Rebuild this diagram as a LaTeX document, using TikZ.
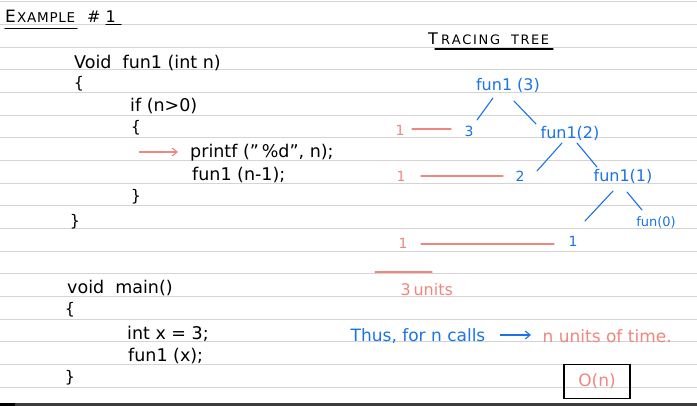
\documentclass[tikz,border=0pt]{standalone}
\usepackage{fontspec}
\setmainfont{DejaVu Sans}
\usetikzlibrary{calc,arrows.meta}
\definecolor{ruleline}{HTML}{D4D4D4}
\definecolor{pen}{HTML}{1A73E8}
\definecolor{salmon}{HTML}{F0877E}
\definecolor{barc}{HTML}{3C3C3C}
\begin{document}
\begin{tikzpicture}[x=1pt,y=-1pt,
  codetxt/.style={anchor=base west,inner sep=0pt,font=\fontsize{17.5}{18}\selectfont},
  bracetxt/.style={inner sep=0pt,font=\fontsize{16}{16}\selectfont},
  treetxt/.style={inner sep=0.5pt,text=pen,font=\fontsize{16}{16}\selectfont},
  numtxt/.style={inner sep=0.5pt,text=pen,font=\fontsize{14}{14}\selectfont},
  pinktxt/.style={inner sep=0.5pt,text=salmon,font=\fontsize{14}{14}\selectfont},
  heading/.style={anchor=base west,inner sep=0pt},
  treeline/.style={draw=pen,line width=1.1pt,line cap=round},
  pinkline/.style={draw=salmon,line width=1.1pt,line cap=round},
  blackline/.style={draw=black,line width=1.1pt,line cap=round}]
\useasboundingbox (0,0) rectangle (697,406);
\fill[white] (0,0) rectangle (697,406);
% ruled paper
\foreach \k in {0,...,17}{
  \draw[ruleline,line width=1pt] (0,{2+22.65*\k}) -- (697,{2+22.65*\k});
}
\fill[barc] (0,403) rectangle (697,406);
\fill[black] (0,403) rectangle (15,406);

% heading
\node[heading] (ex) at (5,23) {\makebox[12pt][l]{\fontsize{17}{17}\selectfont E}{\fontsize{13.5}{13.5}\selectfont\makebox[58pt][s]{X\hfill A\hfill M\hfill P\hfill L\hfill E}}\hspace{12pt}{\fontsize{16}{16}\selectfont\#\hspace{5pt}1}};
\draw[blackline] (5,28.5) -- (77,28.5);
\draw[blackline] (106,24.5) -- (121,24.5);

% code
\node[codetxt] (c1) at (74,69) {Void\ \ fun1 (int n)};
\node[bracetxt] (c2) at (79,84) {\{};
\node[codetxt] (c3) at (130,112) {if (n>0)};
\node[bracetxt] (c4) at (136,128) {\{};
\node[codetxt] (c5) at (190,158) {printf ("\,\%d", n);};
\node[codetxt] (c6) at (192,181) {fun1 (n-1);};
\node[bracetxt] (c7) at (136,197) {\}};
\node[bracetxt] (c8) at (75,222) {\}};
\coordinate (arrs) at (139,152);
\draw[salmon,line width=1.1pt,-{Straight Barb[length=5pt,width=8pt]}] (arrs) -- ($(c5.west |- arrs)+(-12,0)$);
\node[codetxt] (m1) at (67,294) {void\ \ main()};
\node[bracetxt] (m2) at (70,310) {\{};
\node[codetxt] (m3) at (127,340) {int x = 3;};
\node[codetxt] (m4) at (128,362) {fun1 (x);};
\node[bracetxt] (m5) at (70,378) {\}};

% tracing tree title
\node[heading] (tt) at (428,45) {\makebox[13pt][l]{\fontsize{16}{16}\selectfont T}{\fontsize{13}{13}\selectfont\makebox[59pt][s]{R\hfill A\hfill C\hfill I\hfill N\hfill G}\hspace{11pt}\makebox[38pt][s]{T\hfill R\hfill E\hfill E}}};
\draw[blackline] (435,49) -- (553,49);

% tree
\node[treetxt] (f3) at (508,85) {fun1 (3)};
\node[numtxt] (n3) at (469,131) {3};
\node[treetxt] (f2) at (570,133) {fun1(2)};
\node[numtxt] (n2) at (520,176) {2};
\node[treetxt] (f1) at (623,176) {fun1(1)};
\node[numtxt] (n1) at (573,241) {1};
\node[treetxt,font=\fontsize{13}{13}\selectfont] (f0) at (656,222) {fun(0)};
\draw[treeline] ($(f3)+(-15,13)$) -- ($(n3)+(8,-11)$);
\draw[treeline] ($(f3)+(6,16)$) -- ($(f2)+(-34,-9)$);
\draw[treeline] ($(f2)+(-8,10)$) -- ($(n2)+(17,-5)$);
\draw[treeline] ($(f2)+(7,10)$) -- ($(f1)+(-26,-9)$);
\draw[treeline] ($(f1)+(-10,15)$) -- ($(n1)+(12,-20)$);
\draw[treeline] ($(f1)+(4,16)$) -- ($(f0)+(-14,-12)$);

% pink costs
\node[pinktxt] (p3) at (400,130) {1};
\node[pinktxt] (p2) at (401,176) {1};
\node[pinktxt] (p1) at (403,243) {1};
\draw[pinkline] ($(p3)+(12,-1)$) -- ($(n3)+(-18,-2)$);
\draw[pinkline] ($(p2)+(20,0)$) -- ($(n2)+(-17,0)$);
\draw[pinkline] ($(p1)+(18,1)$) -- ($(n1)+(-19,3)$);
\coordinate (sumL) at (375,272);
\coordinate (sumR) at (432,272);
\draw[pinkline] (sumL) -- (sumR);
\node[pinktxt,anchor=west,font=\fontsize{16}{16}\selectfont] (units) at (400,290) {3\,units};

% conclusion
\node[treetxt,anchor=west,font=\fontsize{17}{17}\selectfont] (thus) at (350,336) {Thus,\ for\ n\ calls};
\node[pinktxt,anchor=west,font=\fontsize{17}{17}\selectfont] (res) at (542,336) {n units of time.};
\draw[pen,line width=1.1pt,-{Straight Barb[length=5pt,width=8pt]}] (500,335) -- ($(res.west)+(-11,-1)$);
\node[draw=black,line width=1.5pt,minimum width=66pt,minimum height=34pt,inner sep=0pt,text=salmon,font=\fontsize{17}{17}\selectfont] (on) at (597,381.5) {O(n)};
\end{tikzpicture}
\end{document}
